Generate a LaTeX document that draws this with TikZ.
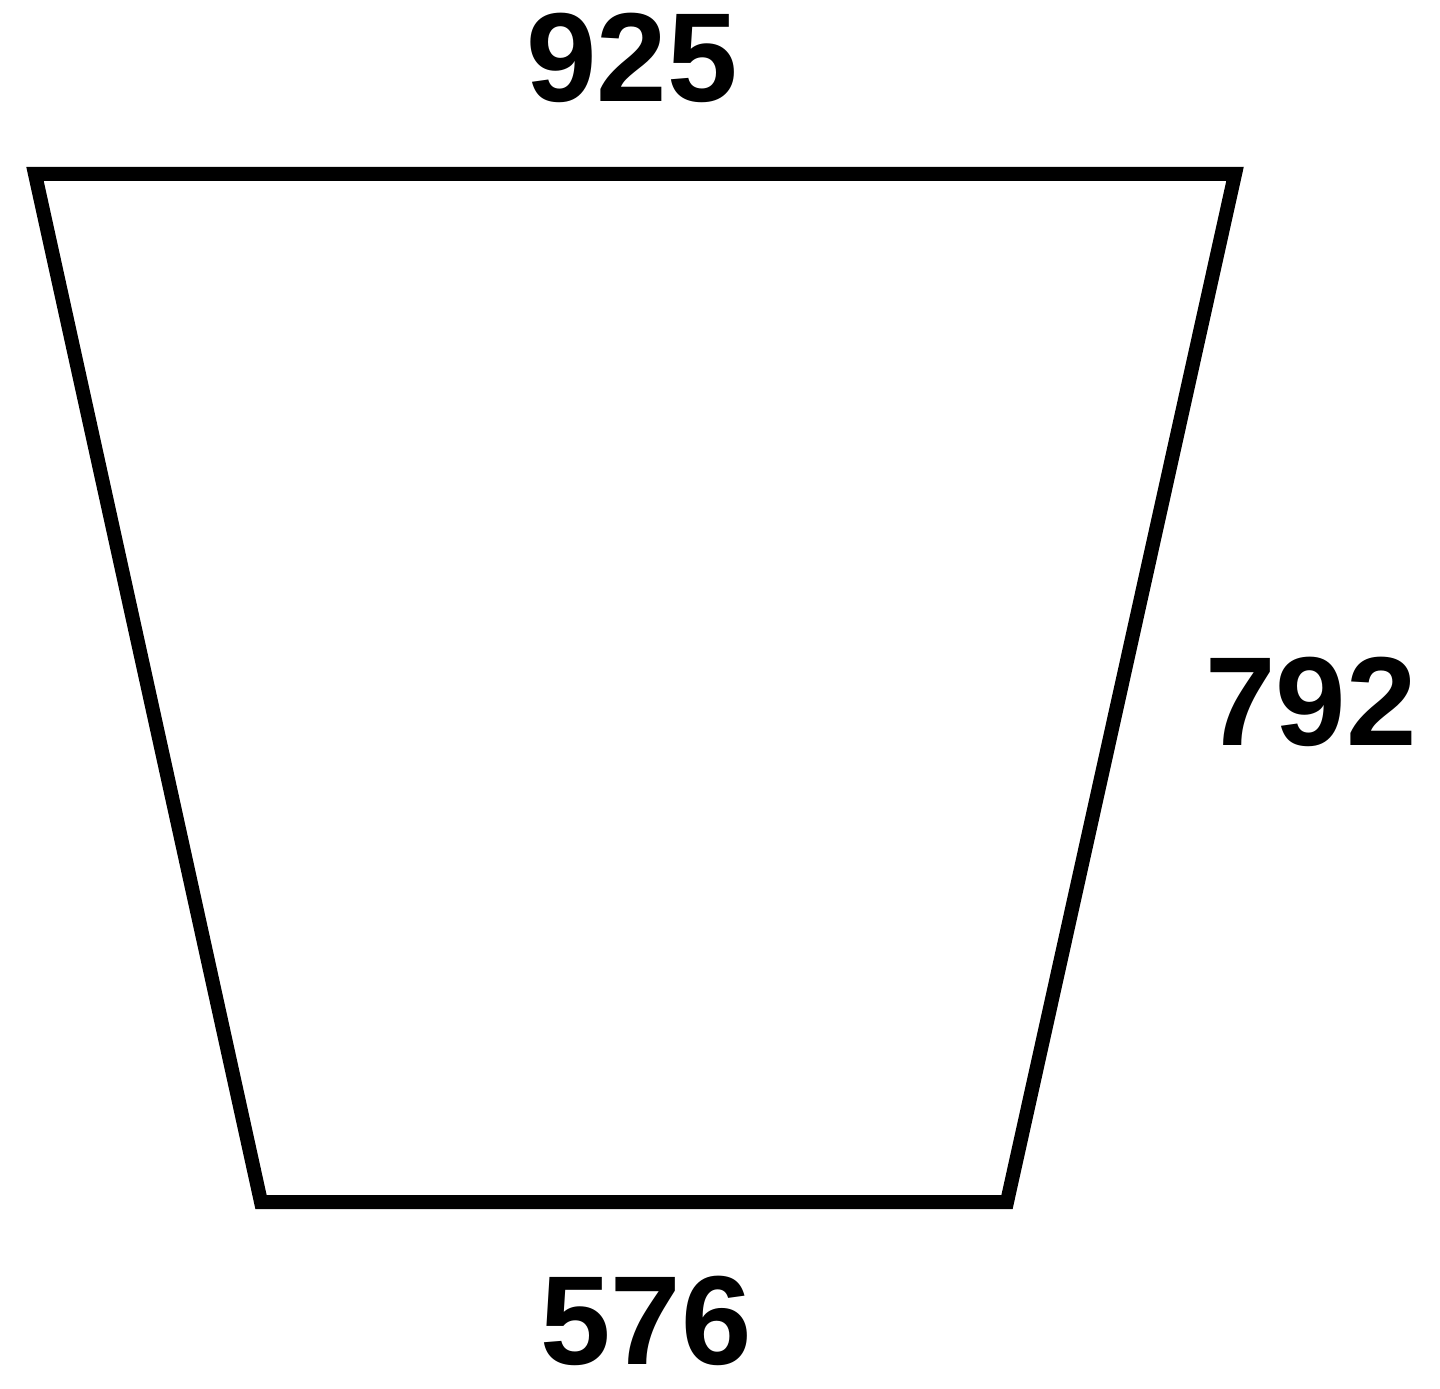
\documentclass[tikz,border=0pt]{standalone}
\usepackage{fontspec}
\setmainfont{Liberation Sans}
\begin{document}
\begin{tikzpicture}[x=0.01cm,y=-0.01cm,
  edge/.style={line width=0.14cm,line join=miter,black},
  dim/.style={font=\fontsize{36}{36}\selectfont\bfseries,inner sep=0pt}]
\useasboundingbox (0,0) rectangle (1440,1389);
\coordinate (tl) at (35,174);
\coordinate (tr) at (1235,174);
\coordinate (br) at (1007,1202);
\coordinate (bl) at (261,1202);
\draw[edge] (tl) -- (tr) -- (br) -- (bl) -- cycle;
\node[dim] (top) at (632,58) {925};
\node[dim] (right) at (1311,702) {792};
\node[dim] (bottom) at (646,1321) {576};
\end{tikzpicture}
\end{document}
